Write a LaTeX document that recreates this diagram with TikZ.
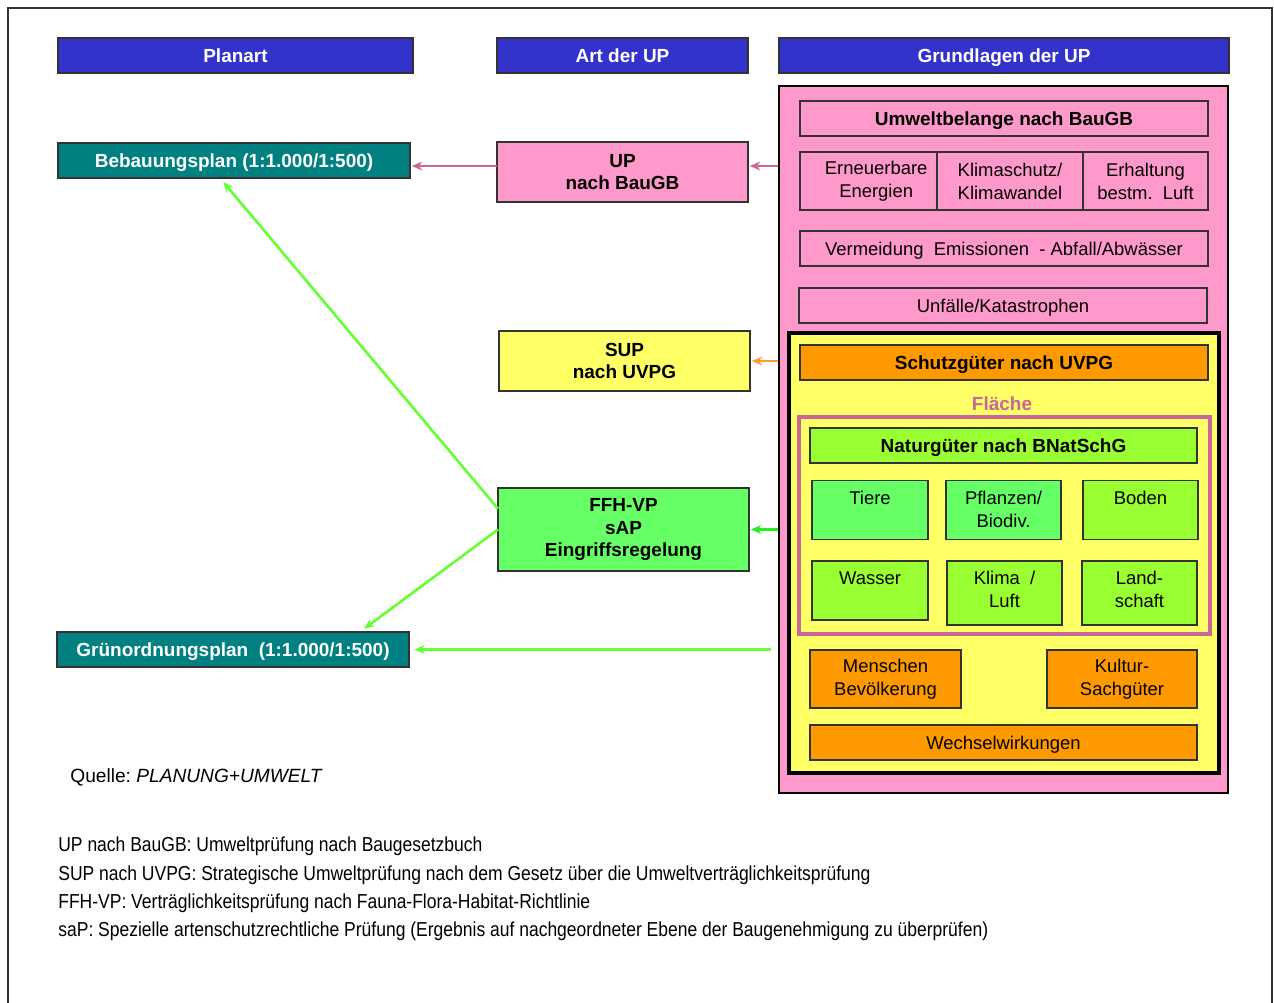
\documentclass[tikz,border=0pt]{standalone}
\usepackage{fontspec}
\setmainfont{Liberation Sans}
\newfontfamily\narrowfont[FakeStretch=0.866]{Liberation Sans}
\usetikzlibrary{positioning,arrows.meta,calc}
\newlength\pxl
\setlength\pxl{0.02cm}
\newcommand\boldtext{\fontsize{10.8}{13}\selectfont\bfseries}
\definecolor{headblue}{HTML}{3333CC}
\definecolor{planteal}{HTML}{008080}
\definecolor{uppink}{HTML}{FF99CC}
\definecolor{supyellow}{HTML}{FFFF66}
\definecolor{ffhgreen}{HTML}{66FF66}
\definecolor{natgreen}{HTML}{99FF33}
\definecolor{schutzorange}{HTML}{FF9900}
\definecolor{mauve}{HTML}{CC6699}
\definecolor{limegreen}{HTML}{66FF33}
\definecolor{brightgreen}{HTML}{22EE22}
\definecolor{arrorange}{HTML}{FF9933}
\tikzset{
	sz/.style 2 args={minimum width=#1\pxl, minimum height=#2\pxl},
	box/.style={draw=black!80, line width=0.6pt, rectangle, inner sep=0pt, outer sep=0pt, align=center},
	oneline/.style={text height=7.6pt, text depth=0pt},
	head/.style={box, oneline, fill=headblue, text=white, font=\boldtext},
	plan/.style={box, oneline, fill=planteal, text=white, font=\boldtext},
	topbox/.style={box, label={[anchor=north, inner sep=0pt, yshift=-0.2cm, align=center]north:{#1}}},
	arr/.style={-{Stealth[length=6pt,width=5pt]}, line width=1.5pt, shorten >=1pt},
}

\begin{document}
\begin{tikzpicture}[x=0.02cm, y=-0.02cm, font=\fontsize{10.5}{13}\selectfont]
	\useasboundingbox (0,0) rectangle (1274,1003);
	\draw[black!80, line width=0.8pt] (8,1003) -- (8,8) -- (1272,8) -- (1272,1003);

	% column heads
	\node[head, sz={355}{35}] (planart) at (235.5,55.5) {Planart};
	\node[head, sz={251}{35}] (artup) at (622.5,55.5) {Art der UP};
	\node[head, sz={450}{35}] (grundlagen) at (1004,55.5) {Grundlagen der UP};

	% plans
	\node[plan, sz={352}{35}] (bplan) at (234,160.5) {Bebauungsplan (1:1.000/1:500)};
	\node[plan, sz={352}{35}] (goplan) at (233,649.5) {Grünordnungsplan\ \ (1:1.000/1:500)};

	% kinds of UP
	\node[box, fill=uppink, font=\boldtext, sz={251}{60}] (up) at (622.5,172) {UP\\nach BauGB};
	\node[box, fill=supyellow, font=\boldtext, sz={251}{60}] (sup) at (624.5,361) {SUP\\nach UVPG};
	\node[box, fill=ffhgreen, font=\boldtext, sz={251}{83}] (ffh) at (623.5,529.5) {FFH-VP\\sAP\\Eingriffsregelung};

	% Grundlagen
	\node[draw=black, line width=1.2pt, fill=uppink, sz={449}{707}, inner sep=0pt] (grundl) at (1003.5,439.5) {};
	\node[box, oneline, fill=uppink, font=\boldtext, sz={408}{35}] (umwelt) at (1004,118.5) {Umweltbelange nach BauGB};
	\node[box, fill=uppink, sz={137}{58}] (erneu) at (868.5,181) {\ \ \ Erneuerbare\\\ \ \ Energien};
	\node[box, fill=uppink, sz={146}{58}] (klimaschutz) at (1010,181) {Klimaschutz/\\Klimawandel};
	\node[box, fill=uppink, sz={125}{58}] (erhalt) at (1145.5,181) {Erhaltung\\bestm.\ \ Luft};
	\node[box, oneline, fill=uppink, sz={408}{35}] (vermeid) at (1004,248.5) {Vermeidung\ \ Emissionen\ \ - Abfall/Abwässer};
	\node[box, oneline, fill=uppink, sz={408}{35}] (unfall) at (1003,305.5) {Unfälle/Katastrophen};

	\node[draw=black, line width=1.8pt, fill=supyellow, sz={430}{440}, inner sep=0pt] (uvpg) at (1004,553) {};
	\node[box, oneline, fill=schutzorange, font=\boldtext, sz={408}{35}] (schutz) at (1004,362.5) {Schutzgüter nach UVPG};
	\node[text=mauve, font=\boldtext, inner sep=0pt] (flaeche) at (1002,404) {Fläche};
	\node[draw=mauve, line width=1.8pt, sz={411}{217}, inner sep=0pt] (bnat) at (1004.5,525.5) {};
	\node[box, oneline, fill=natgreen, font=\boldtext, sz={387}{35}] (natur) at (1003.5,445.5) {Naturgüter nach BNatSchG};

	\node[topbox=Tiere, fill=ffhgreen, sz={116}{59}] (tiere) at (870,510) {};
	\node[topbox={Pflanzen/\\Biodiv.}, fill=ffhgreen, sz={115}{59}] (pflanzen) at (1003.5,510) {};
	\node[topbox=Boden, fill=natgreen, sz={115}{59}] (boden) at (1140.5,510) {};
	\node[topbox=Wasser, fill=natgreen, sz={116}{59}] (wasser) at (870,590.5) {};
	\node[topbox={Klima\ \ /\\Luft}, fill=natgreen, sz={115}{64}] (klima) at (1004.5,593) {};
	\node[topbox={Land-\\schaft}, fill=natgreen, sz={115}{64}] (landschaft) at (1139.5,593) {};

	\node[box, fill=schutzorange, sz={151}{58}] (menschen) at (885.5,679) {Menschen\\Bevölkerung};
	\node[box, fill=schutzorange, sz={150}{58}] (kultur) at (1122,679) {Kultur-\\Sachgüter};
	\node[box, oneline, fill=schutzorange, sz={387}{35}] (wechsel) at (1003.5,742.5) {Wechselwirkungen};

	% arrows
	\coordinate (umid) at ($(up.west)+(0,-6)$);
	\draw[arr, mauve] (grundl.west |- umid) -- (umid -| up.east);
	\draw[arr, mauve] (umid) -- (umid -| bplan.east);
	\draw[arr, arrorange] (grundl.west |- sup) -- (sup.east);
	\draw[arr, brightgreen] (grundl.west |- ffh) -- (ffh.east);
	\draw[arr, limegreen, shorten <=4pt, shorten >=3pt] (grundl.west |- goplan) -- (goplan.east);
	\draw[arr, limegreen, shorten >=3pt] ($(ffh.north west)!0.25!(ffh.south west)$) -- ($(bplan.south west)!0.46!(bplan.south east)$);
	\draw[arr, limegreen, shorten >=3pt] (ffh.west) -- ($(goplan.north west)!0.86!(goplan.north east)$);

	% source and abbreviations
	\node[anchor=west, inner sep=0pt, font=\fontsize{10.9}{13}\selectfont] (quelle) at (70,777) {Quelle:\ \textit{PLANUNG+UMWELT}};
	\node[anchor=north west, align=left, inner sep=0pt, font=\narrowfont\fontsize{11.5}{16.1}\selectfont] (legende) at (58,837) {UP nach BauGB: Umweltprüfung nach Baugesetzbuch\\
		SUP nach UVPG: Strategische Umweltprüfung nach dem Gesetz über die Umweltverträglichkeitsprüfung\\
		FFH-VP: Verträglichkeitsprüfung nach Fauna-Flora-Habitat-Richtlinie\\
		saP: Spezielle artenschutzrechtliche Prüfung (Ergebnis auf nachgeordneter Ebene der Baugenehmigung zu überprüfen)};
\end{tikzpicture}
\end{document}
